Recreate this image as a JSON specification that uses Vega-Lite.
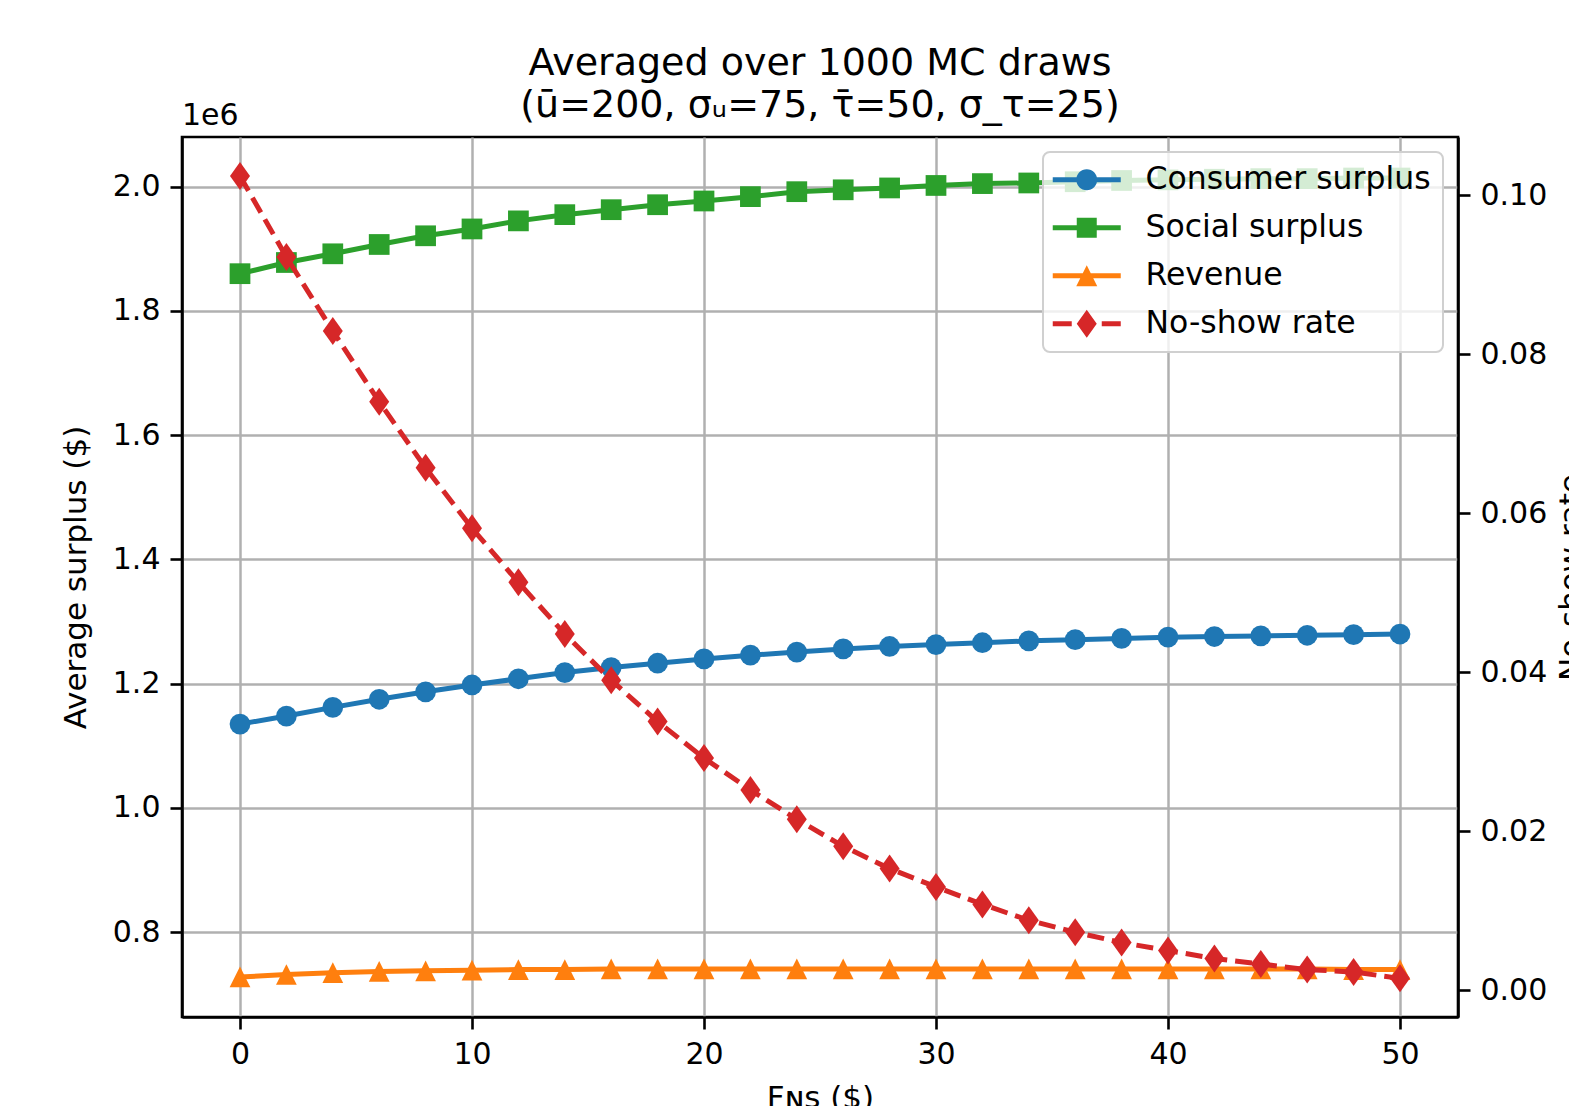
{
  "$schema": "https://vega.github.io/schema/vega-lite/v6.json",
  "autosize": {"type": "none"},
  "width": 1276,
  "height": 880,
  "padding": {"left": 182, "top": 137, "right": 111, "bottom": 89},
  "background": "white",
  "title": {
    "text": ["Averaged over 1000 MC draws", "(ū=200, σᵤ=75, τ̄=50, σ_τ=25)"],
    "anchor": "middle",
    "fontSize": 38,
    "fontWeight": "normal",
    "font": "DejaVu Sans",
    "color": "#000000",
    "lineHeight": 42,
    "offset": -24
  },
  "config": {
    "font": "DejaVu Sans",
    "view": {"stroke": "#000000", "strokeWidth": 2.6},
    "axis": {
      "labelFont": "DejaVu Sans",
      "titleFont": "DejaVu Sans",
      "labelFontSize": 30,
      "titleFontSize": 31,
      "titleFontWeight": "normal",
      "labelColor": "#000000",
      "titleColor": "#000000",
      "domainColor": "#000000",
      "domainWidth": 2.6,
      "tickColor": "#000000",
      "tickWidth": 2.6,
      "tickSize": 12,
      "labelPadding": 10,
      "gridColor": "#b0b0b0",
      "gridWidth": 2.5,
      "labelFlush": false,
      "labelOverlap": false
    },
    "legend": {
      "orient": "top-right",
      "offset": 15,
      "fillColor": "rgba(255,255,255,0.8)",
      "strokeColor": "#d0d0d0",
      "strokeWidth": 2,
      "cornerRadius": 7,
      "padding": 12,
      "labelFont": "DejaVu Sans",
      "labelFontSize": 31.5,
      "labelColor": "#000000",
      "labelLimit": 500,
      "symbolSize": 400,
      "labelOffset": 59,
      "rowPadding": 15,
      "title": null
    }
  },
  "data": {
    "values": [
      {"F": 0, "series": "Consumer surplus", "value": 1135000},
      {"F": 2, "series": "Consumer surplus", "value": 1148000},
      {"F": 4, "series": "Consumer surplus", "value": 1162000},
      {"F": 6, "series": "Consumer surplus", "value": 1175000},
      {"F": 8, "series": "Consumer surplus", "value": 1187000},
      {"F": 10, "series": "Consumer surplus", "value": 1198000},
      {"F": 12, "series": "Consumer surplus", "value": 1208000},
      {"F": 14, "series": "Consumer surplus", "value": 1218000},
      {"F": 16, "series": "Consumer surplus", "value": 1226000},
      {"F": 18, "series": "Consumer surplus", "value": 1233000},
      {"F": 20, "series": "Consumer surplus", "value": 1240000},
      {"F": 22, "series": "Consumer surplus", "value": 1246000},
      {"F": 24, "series": "Consumer surplus", "value": 1251000},
      {"F": 26, "series": "Consumer surplus", "value": 1256000},
      {"F": 28, "series": "Consumer surplus", "value": 1260000},
      {"F": 30, "series": "Consumer surplus", "value": 1263000},
      {"F": 32, "series": "Consumer surplus", "value": 1266000},
      {"F": 34, "series": "Consumer surplus", "value": 1269000},
      {"F": 36, "series": "Consumer surplus", "value": 1271000},
      {"F": 38, "series": "Consumer surplus", "value": 1273000},
      {"F": 40, "series": "Consumer surplus", "value": 1275000},
      {"F": 42, "series": "Consumer surplus", "value": 1276000},
      {"F": 44, "series": "Consumer surplus", "value": 1277000},
      {"F": 46, "series": "Consumer surplus", "value": 1278000},
      {"F": 48, "series": "Consumer surplus", "value": 1279000},
      {"F": 50, "series": "Consumer surplus", "value": 1280000},
      {"F": 0, "series": "Social surplus", "value": 1860000},
      {"F": 2, "series": "Social surplus", "value": 1878000},
      {"F": 4, "series": "Social surplus", "value": 1892000},
      {"F": 6, "series": "Social surplus", "value": 1907000},
      {"F": 8, "series": "Social surplus", "value": 1921000},
      {"F": 10, "series": "Social surplus", "value": 1932000},
      {"F": 12, "series": "Social surplus", "value": 1945000},
      {"F": 14, "series": "Social surplus", "value": 1955000},
      {"F": 16, "series": "Social surplus", "value": 1963000},
      {"F": 18, "series": "Social surplus", "value": 1971000},
      {"F": 20, "series": "Social surplus", "value": 1977000},
      {"F": 22, "series": "Social surplus", "value": 1984000},
      {"F": 24, "series": "Social surplus", "value": 1992000},
      {"F": 26, "series": "Social surplus", "value": 1995000},
      {"F": 28, "series": "Social surplus", "value": 1998000},
      {"F": 30, "series": "Social surplus", "value": 2002000},
      {"F": 32, "series": "Social surplus", "value": 2005000},
      {"F": 34, "series": "Social surplus", "value": 2006000},
      {"F": 36, "series": "Social surplus", "value": 2008000},
      {"F": 38, "series": "Social surplus", "value": 2010000},
      {"F": 40, "series": "Social surplus", "value": 2011000},
      {"F": 42, "series": "Social surplus", "value": 2012000},
      {"F": 44, "series": "Social surplus", "value": 2013000},
      {"F": 46, "series": "Social surplus", "value": 2013000},
      {"F": 48, "series": "Social surplus", "value": 2014000},
      {"F": 50, "series": "Social surplus", "value": 2014000},
      {"F": 0, "series": "Revenue", "value": 728000},
      {"F": 2, "series": "Revenue", "value": 732000},
      {"F": 4, "series": "Revenue", "value": 735000},
      {"F": 6, "series": "Revenue", "value": 737000},
      {"F": 8, "series": "Revenue", "value": 738000},
      {"F": 10, "series": "Revenue", "value": 739000},
      {"F": 12, "series": "Revenue", "value": 740000},
      {"F": 14, "series": "Revenue", "value": 740000},
      {"F": 16, "series": "Revenue", "value": 741000},
      {"F": 18, "series": "Revenue", "value": 741000},
      {"F": 20, "series": "Revenue", "value": 741000},
      {"F": 22, "series": "Revenue", "value": 741000},
      {"F": 24, "series": "Revenue", "value": 741000},
      {"F": 26, "series": "Revenue", "value": 741000},
      {"F": 28, "series": "Revenue", "value": 741000},
      {"F": 30, "series": "Revenue", "value": 741000},
      {"F": 32, "series": "Revenue", "value": 741000},
      {"F": 34, "series": "Revenue", "value": 741000},
      {"F": 36, "series": "Revenue", "value": 741000},
      {"F": 38, "series": "Revenue", "value": 741000},
      {"F": 40, "series": "Revenue", "value": 741000},
      {"F": 42, "series": "Revenue", "value": 741000},
      {"F": 44, "series": "Revenue", "value": 741000},
      {"F": 46, "series": "Revenue", "value": 741000},
      {"F": 48, "series": "Revenue", "value": 740000},
      {"F": 50, "series": "Revenue", "value": 740000},
      {"F": 0, "series": "No-show rate", "value": 0.1024},
      {"F": 2, "series": "No-show rate", "value": 0.0922},
      {"F": 4, "series": "No-show rate", "value": 0.0829},
      {"F": 6, "series": "No-show rate", "value": 0.0740},
      {"F": 8, "series": "No-show rate", "value": 0.0657},
      {"F": 10, "series": "No-show rate", "value": 0.0581},
      {"F": 12, "series": "No-show rate", "value": 0.0513},
      {"F": 14, "series": "No-show rate", "value": 0.0448},
      {"F": 16, "series": "No-show rate", "value": 0.0390},
      {"F": 18, "series": "No-show rate", "value": 0.0338},
      {"F": 20, "series": "No-show rate", "value": 0.0292},
      {"F": 22, "series": "No-show rate", "value": 0.0252},
      {"F": 24, "series": "No-show rate", "value": 0.0215},
      {"F": 26, "series": "No-show rate", "value": 0.0181},
      {"F": 28, "series": "No-show rate", "value": 0.0153},
      {"F": 30, "series": "No-show rate", "value": 0.0130},
      {"F": 32, "series": "No-show rate", "value": 0.0108},
      {"F": 34, "series": "No-show rate", "value": 0.0088},
      {"F": 36, "series": "No-show rate", "value": 0.0073},
      {"F": 38, "series": "No-show rate", "value": 0.0060},
      {"F": 40, "series": "No-show rate", "value": 0.0050},
      {"F": 42, "series": "No-show rate", "value": 0.0040},
      {"F": 44, "series": "No-show rate", "value": 0.0033},
      {"F": 46, "series": "No-show rate", "value": 0.0026},
      {"F": 48, "series": "No-show rate", "value": 0.0023},
      {"F": 50, "series": "No-show rate", "value": 0.0015}
    ]
  },
  "layer": [
    {
      "encoding": {
        "x": {
          "field": "F", "type": "quantitative",
          "scale": {"domain": [-2.5, 52.5], "nice": false, "zero": false},
          "axis": {"values": [0, 10, 20, 30, 40, 50], "grid": true, "title": "Fɴꜱ ($)", "titlePadding": 14}
        },
        "y": {
          "field": "value", "type": "quantitative",
          "scale": {"domain": [663600, 2080000], "nice": false, "zero": false},
          "axis": {
            "orient": "left",
            "values": [800000, 1000000, 1200000, 1400000, 1600000, 1800000, 2000000],
            "labelExpr": "format(datum.value / 1000000, '.1f')",
            "grid": true,
            "title": "Average surplus ($)",
            "titlePadding": 20
          }
        }
      },
      "layer": [
        {
          "transform": [{"filter": "datum.series !== 'No-show rate'"}],
          "mark": {"type": "line", "strokeWidth": 5},
          "encoding": {
            "color": {
              "field": "series", "type": "nominal",
              "scale": {
                "domain": ["Consumer surplus", "Social surplus", "Revenue", "No-show rate"],
                "range": ["#1f77b4", "#2ca02c", "#ff7f0e", "#d62728"]
              },
              "legend": {
                "encode": {
                  "symbols": {
                    "update": {
                      "shape": {"signal": "datum.value === 'Consumer surplus' ? 'M-1.8,-0.25H5V0.25H-1.8Z M0.55,0A1.05,1.05 0 1,1 2.65,0A1.05,1.05 0 1,1 0.55,0Z' : datum.value === 'Social surplus' ? 'M-1.8,-0.25H5V0.25H-1.8Z M0.6,-1H2.6V1H0.6Z' : datum.value === 'Revenue' ? 'M-1.8,-0.25H5V0.25H-1.8Z M1.6,-1.05L2.65,1.05L0.55,1.05Z' : 'M-1.8,-0.25H0.1V0.25H-1.8Z M3.1,-0.25H5V0.25H3.1Z M1.6,-1.4L2.6,0L1.6,1.4L0.6,0Z'"},
                      "fill": {"scale": "color", "field": "value"},
                      "stroke": {"value": "transparent"},
                      "strokeWidth": {"value": 0},
                      "opacity": {"value": 1}
                    }
                  }
                }
              }
            }
          }
        },
        {
          "transform": [{"filter": "datum.series !== 'No-show rate'"}],
          "mark": {"type": "point", "filled": true, "opacity": 1, "size": 430},
          "encoding": {
            "color": {"field": "series", "type": "nominal"},
            "shape": {
              "field": "series", "type": "nominal",
              "scale": {
                "domain": ["Consumer surplus", "Social surplus", "Revenue"],
                "range": ["circle", "square", "M0,-1L1,1L-1,1Z"]
              },
              "legend": null
            }
          }
        }
      ]
    },
    {
      "transform": [{"filter": "datum.series === 'No-show rate'"}],
      "encoding": {
        "x": {"field": "F", "type": "quantitative", "scale": {"domain": [-2.5, 52.5], "nice": false, "zero": false}},
        "y": {
          "field": "value", "type": "quantitative",
          "scale": {"domain": [-0.00336, 0.1073], "nice": false, "zero": false},
          "axis": {
            "orient": "right",
            "values": [0, 0.02, 0.04, 0.06, 0.08, 0.1],
            "format": ".2f",
            "grid": false,
            "title": "No-show rate",
            "titleAngle": 270,
            "titleBaseline": "top",
            "titlePadding": 10
          }
        },
        "color": {"field": "series", "type": "nominal"}
      },
      "layer": [
        {"mark": {"type": "line", "strokeWidth": 5, "strokeDash": [17, 8]}},
        {"mark": {"type": "point", "filled": true, "opacity": 1, "size": 400, "shape": "M0,-1.4L1,0L0,1.4L-1,0Z"}}
      ]
    },
    {
      "data": {"values": [{"label": "1e6", "pos": 1}]},
      "mark": {"type": "text", "align": "left", "baseline": "bottom", "dy": -6, "fontSize": 30, "font": "DejaVu Sans", "fill": "#000000"},
      "encoding": {
        "x": {"datum": -2.5, "type": "quantitative"},
        "y": {"field": "pos", "type": "quantitative", "scale": {"domain": [0, 1], "nice": false, "zero": false}, "axis": null},
        "text": {"field": "label", "type": "nominal"}
      }
    }
  ],
  "resolve": {"scale": {"y": "independent"}}
}
